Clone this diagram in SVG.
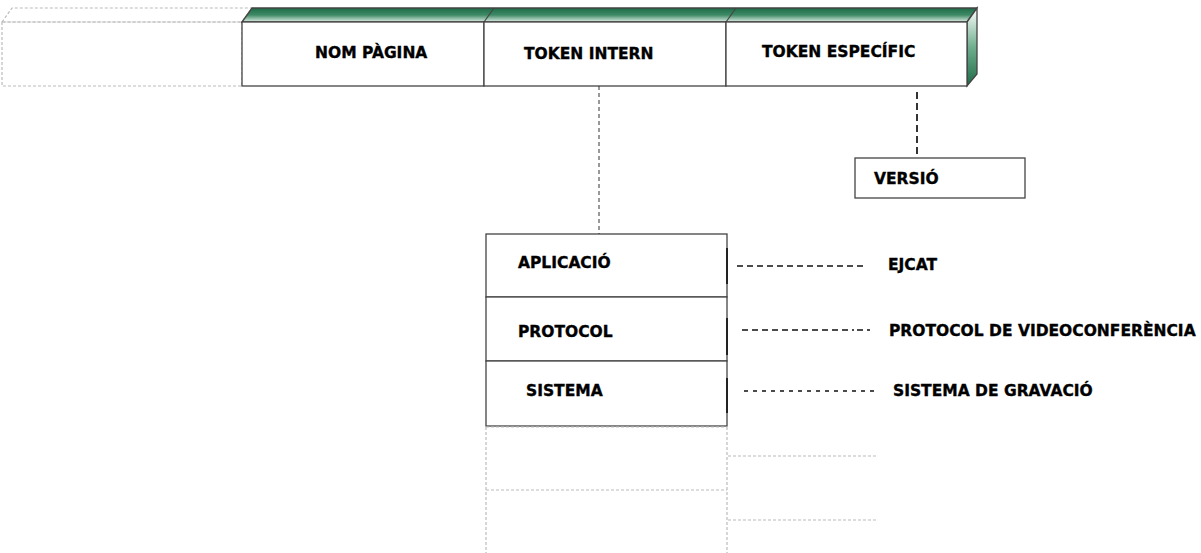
<svg xmlns="http://www.w3.org/2000/svg" width="1201" height="553" viewBox="0 0 1201 553">
<defs>
<linearGradient id="gTop" x1="0" y1="0" x2="0" y2="1">
<stop offset="0" stop-color="#1d6b48"/>
<stop offset="0.5" stop-color="#3f8a66"/>
<stop offset="1" stop-color="#dfeee6"/>
</linearGradient>
<linearGradient id="gSide" x1="0" y1="0" x2="0" y2="1">
<stop offset="0" stop-color="#ffffff"/>
<stop offset="0.5" stop-color="#6fae8e"/>
<stop offset="1" stop-color="#1d6b48"/>
</linearGradient>
<style>
text{font-family:"DejaVu Sans",Verdana,sans-serif;font-weight:bold;font-size:15.5px;fill:#000;stroke:#000;stroke-width:0.35}
.solid{fill:#fff;stroke:#444;stroke-width:1.3}
.ghost{fill:none;stroke:#bbb;stroke-width:1.2;stroke-dasharray:3 2}
.conn{fill:none;stroke:#111;stroke-width:1.7}
</style>
</defs>

<g id="ghost-cell">
<polygon class="ghost" points="2,22 12,8 252,8 242,22"/>
<rect class="ghost" x="2" y="22" width="240" height="64"/>
</g>

<g id="header-bar">
<polygon points="242,22 252,8 977,8 967,22" fill="url(#gTop)" stroke="#444" stroke-width="1.3"/>
<polygon points="967,22 977,8 977,74 967,86" fill="url(#gSide)" stroke="#444" stroke-width="1.3"/>
<line x1="484" y1="22" x2="494" y2="8" stroke="#444" stroke-width="1.2"/>
<line x1="726" y1="22" x2="736" y2="8" stroke="#444" stroke-width="1.2"/>
</g>

<g id="nom-pagina">
<rect class="solid" x="242" y="22" width="242" height="64"/>
<text x="315" y="58">NOM PÀGINA</text>
</g>
<g id="token-intern">
<rect class="solid" x="484" y="22" width="242" height="64"/>
<text x="524" y="59">TOKEN INTERN</text>
</g>
<g id="token-especific">
<rect class="solid" x="726" y="22" width="241" height="64"/>
<text x="762" y="57">TOKEN ESPECÍFIC</text>
</g>

<g id="versio">
<rect class="solid" x="855" y="158" width="170" height="40" stroke-width="1.6"/>
<text x="874" y="184">VERSIÓ</text>
</g>

<g id="aplicacio">
<rect class="solid" x="486" y="234" width="241" height="63"/>
<line x1="727" y1="248" x2="727" y2="284" stroke="#222" stroke-width="2"/>
<text x="518" y="268">APLICACIÓ</text>
</g>
<g id="protocol">
<rect class="solid" x="486" y="297" width="241" height="64"/>
<line x1="727" y1="318" x2="727" y2="355" stroke="#222" stroke-width="2"/>
<text x="518" y="337">PROTOCOL</text>
</g>
<g id="sistema">
<rect class="solid" x="486" y="361" width="241" height="65"/>
<line x1="727" y1="378" x2="727" y2="413" stroke="#222" stroke-width="2"/>
<text x="526" y="396">SISTEMA</text>
</g>

<g id="ghost-stack">
<line class="ghost" x1="486" y1="427" x2="486" y2="553"/>
<line class="ghost" x1="727" y1="427" x2="727" y2="553"/>
<line class="ghost" x1="486" y1="427" x2="727" y2="427"/>
<line class="ghost" x1="486" y1="490" x2="727" y2="490"/>
<line class="ghost" x1="728" y1="456" x2="877" y2="456"/>
<line class="ghost" x1="728" y1="520" x2="877" y2="520"/>
</g>

<g id="ejcat"><text x="888" y="270">EJCAT</text></g>
<g id="protocol-videoconferencia"><text x="889" y="336">PROTOCOL DE VIDEOCONFERÈNCIA</text></g>
<g id="sistema-gravacio"><text x="893" y="396">SISTEMA DE GRAVACIÓ</text></g>

<g id="connectors">
<line x1="599" y1="86" x2="599" y2="234" stroke="#333" stroke-width="1" stroke-dasharray="4 3"/>
<line class="conn" x1="917" y1="92" x2="917" y2="158" stroke-width="2" stroke-dasharray="7 4"/>
<line class="conn" x1="737" y1="266" x2="863" y2="266" stroke-dasharray="6 4"/>
<line class="conn" x1="742" y1="330" x2="870" y2="330" stroke-dasharray="6 4 6 4 6 4 6 4 6 4 6 4 6 4 6 4 6 4 6 4 6 4 2 3"/>
<line class="conn" x1="744" y1="391" x2="874" y2="391" stroke-dasharray="4 5"/>
</g>
</svg>
